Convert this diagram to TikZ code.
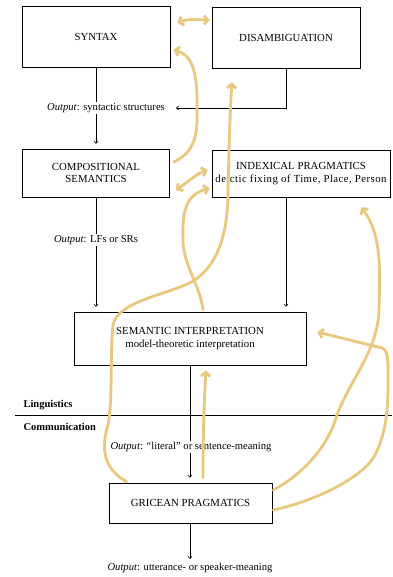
\documentclass[tikz,border=0pt]{standalone}
\usepackage{fontspec}
\setmainfont{Liberation Serif}
\usetikzlibrary{arrows.meta}
\definecolor{marker}{RGB}{233,199,124}

\begin{document}
\begin{tikzpicture}[
    x=1pt, y=-1pt,
    font=\fontsize{10.6}{12}\selectfont,
    box/.style={draw, line width=0.6pt, align=center, inner sep=1pt, font=\fontsize{10.8}{12.5}\selectfont},
    output/.style={inner sep=1pt},
    plain/.style={line width=0.6pt},
    arrow/.style={plain, -{To[length=3pt,width=4.5pt]}, shorten >=5pt},
    scrawl/.style={marker, line width=2.8pt, line cap=round, line join=round,
      -{Straight Barb[length=4pt,width=9pt]}},
    scrawlboth/.style={scrawl, {Straight Barb[length=4pt,width=9pt]}-{Straight Barb[length=4pt,width=9pt]}}
  ]
  \useasboundingbox (0,0) rectangle (392,577);

  % Boxes
  \node[box, minimum width=148pt, minimum height=61pt] (syntax) at (96,36.5) {SYNTAX};
  \node[box, minimum width=148pt, minimum height=61pt] (disamb) at (286,37.5) {DISAMBIGUATION};
  \node[box, minimum width=147pt, minimum height=48pt] (compsem) at (96,173) {COMPOSITIONAL\\SEMANTICS};
  \node[box, minimum width=178pt, minimum height=47pt] (index) at (301,173.5) {INDEXICAL PRAGMATICS\\\addfontfeature{LetterSpace=4}deictic fixing of Time, Place, Person};
  \node[box, minimum width=232pt, minimum height=53pt] (semint) at (190,338.5) {SEMANTIC INTERPRETATION\\model-theoretic interpretation};
  \node[box, minimum width=163pt, minimum height=40pt] (gricean) at (190.5,503) {GRICEAN PRAGMATICS};

  % Outputs
  \node[output] (outsyn) at (106,108) {\textit{Output}: syntactic structures};
  \node[output] (outlf) at (96,240) {\textit{Output}: LFs or SRs};
  \node[output] (outlit) at (191,447) {\textit{Output}: ``literal'' or sentence-meaning};
  \node[output] (oututt) at (190,568) {\textit{Output}: utterance- or speaker-meaning};

  % Divider
  \node[anchor=west, font=\fontsize{10.5}{12}\selectfont\bfseries] (ling) at (20,405) {Linguistics};
  \node[anchor=west, font=\fontsize{10.5}{12}\selectfont\bfseries] (comm) at (20,427) {Communication};
  \draw[plain] (15,415) -- (392,415);

  % Flow
  \draw[plain] (syntax.south) -- (syntax.south |- outsyn.north);
  \draw[arrow] (syntax.south |- outsyn.south) -- (compsem.north);
  \draw[arrow, shorten >=10pt] (disamb.south) |- (outsyn.east);
  \draw[plain] (compsem.south) -- (compsem.south |- outlf.north);
  \draw[arrow] (compsem.south |- outlf.south) -- (compsem.south |- semint.north);
  \draw[arrow] (disamb.south |- index.south) -- (disamb.south |- semint.north);
  \draw[plain] (semint.south) -- (semint.south |- outlit.north);
  \draw[arrow] (semint.south |- outlit.south) -- (semint.south |- gricean.north);
  \draw[arrow, shorten >=3pt] (gricean.south -| semint.south) -- (oututt.north -| semint.south);

  % Hand-drawn arrows
  \draw[scrawlboth] ([xshift=7pt, yshift=13.5pt]syntax.east) .. controls (190,18) and (200,20) .. ([xshift=-2pt, yshift=17.5pt]disamb.west);
  \draw[scrawl] ([xshift=4pt, yshift=11pt]compsem.east) .. controls (200,150) and (197,125) .. (197,100)
    .. controls (197,68) and (190,54) .. ([xshift=3pt, yshift=-13.5pt]syntax.east);
  \draw[scrawlboth] ([xshift=6pt, yshift=-17pt]compsem.east) .. controls (188,182) and (196,174) .. ([xshift=-4pt, yshift=3.5pt]index.west);
  \draw[scrawl] ([xshift=18pt, yshift=1pt]gricean.north west) .. controls (105,470) and (100,450) .. (108,425)
    .. controls (113,400) and (110,350) .. (113,325)
    .. controls (118,300) and (170,295) .. (195,280)
    .. controls (220,262) and (228,230) .. (228,190)
    .. controls (229,150) and (230,110) .. ([xshift=-54pt, yshift=-14pt]disamb.south);
  \draw[scrawl] ([xshift=13pt, yshift=2pt]semint.north) .. controls (200,285) and (183,265) .. (183,240)
    .. controls (182,210) and (186,195) .. ([xshift=-2pt, yshift=-14.5pt]index.west);
  \draw[scrawl] ([xshift=12.5pt, yshift=5pt]gricean.north) .. controls (203,440) and (204,400) .. ([xshift=16pt, yshift=-5pt]semint.south);
  \draw[scrawl] ([xshift=1pt, yshift=13pt]gricean.east) .. controls (310,470) and (330,440) .. (337,415)
    .. controls (350,380) and (378,350) .. (379,310)
    .. controls (380,270) and (382,235) .. ([xshift=-29pt, yshift=-10pt]index.south east);
  \draw[scrawl] ([xshift=1pt, yshift=-7pt]gricean.east) .. controls (320,500) and (365,475) .. (375,455)
    .. controls (388,430) and (388,400) .. (388,380)
    .. controls (388,360) and (389,347) .. (378,347)
    -- ([xshift=11pt, yshift=6.5pt]semint.east);

\end{tikzpicture}
\end{document}
